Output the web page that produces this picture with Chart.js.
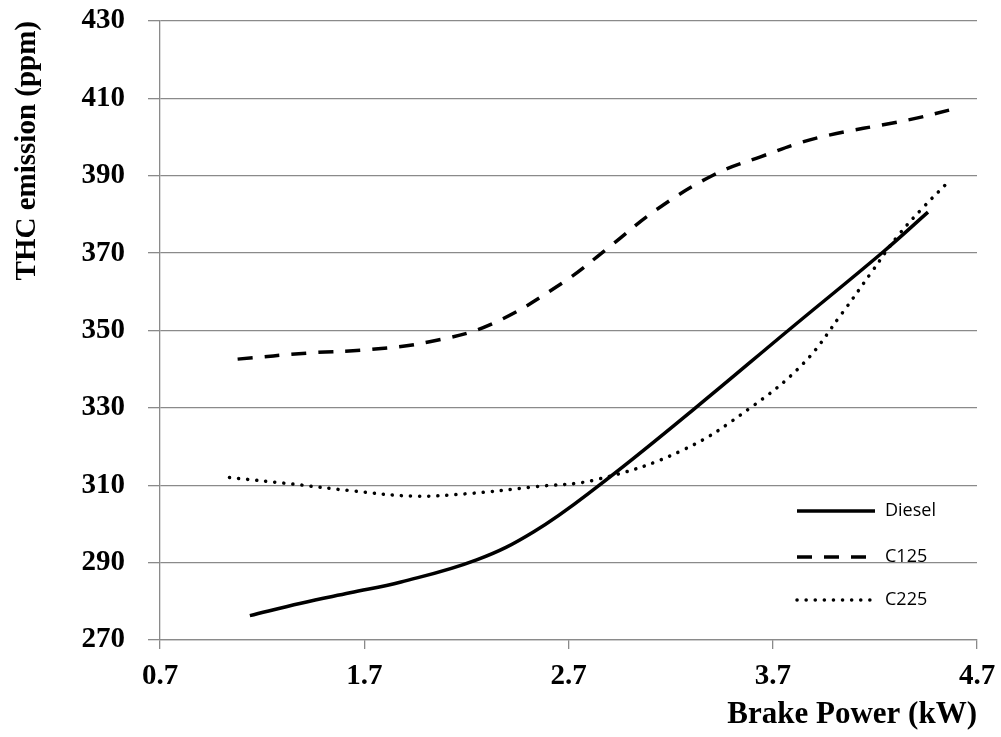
<!DOCTYPE html>
<html>
<head>
<meta charset="utf-8">
<script src="https://cdn.jsdelivr.net/npm/chart.js@4.4.1/dist/chart.umd.min.js"></script>
<style>
  html, body { margin: 0; padding: 0; background: #fff; }
  #wrap { width: 1001px; height: 737px; }
</style>
</head>
<body>
<div id="wrap"><canvas id="thc"></canvas></div>
<script>
// values
const xTicks = [0.7, 1.7, 2.7, 3.7, 4.7];
const yMin = 270, yMax = 430, yStep = 20;

const dieselX = [1.14, 1.39, 1.63, 1.88, 2.25, 2.53, 2.84, 3.31, 3.78, 4.24, 4.46];
const dieselY = [276.3, 279.5, 282.2, 285.0, 290.7, 298.0, 309.6, 329.5, 350.2, 370.3, 380.6];

const c125X = [1.08, 1.43, 1.73, 2.02, 2.32, 2.67, 2.90, 3.13, 3.41, 3.64, 3.92, 4.37, 4.59];
const c125Y = [342.6, 344.2, 345.1, 347.1, 351.6, 362.3, 371.6, 381.2, 390.2, 394.9, 399.8, 404.5, 407.3];

const c225X = [1.04, 1.35, 1.65, 1.94, 2.20, 2.53, 2.84, 3.26, 3.59, 3.85, 4.04, 4.18, 4.31, 4.44, 4.55];
const c225Y = [312.0, 310.3, 308.5, 307.2, 307.8, 309.6, 311.5, 319.1, 330.0, 341.5, 354.5, 364.8, 374.3, 382.0, 387.9];

const pts = (xs, ys) => xs.map((x, i) => ({x: x, y: ys[i]}));
const gridGray = '#8a8a8a';
const serif = "'Liberation Serif', 'Times New Roman', serif";

// legend drawn inside the plot, lower right
const insideLegend = {
  id: 'insideLegend',
  afterDraw(chart) {
    const ctx = chart.ctx;
    const a = chart.chartArea;
    const rows = [a.bottom - 129, a.bottom - 83, a.bottom - 40];
    ctx.save();
    chart.data.datasets.forEach((ds, i) => {
      const y = rows[i];
      ctx.beginPath();
      ctx.strokeStyle = ds.borderColor;
      ctx.lineWidth = ds.borderWidth;
      ctx.lineCap = ds.borderCapStyle || 'butt';
      ctx.setLineDash(ds.borderDash || []);
      ctx.moveTo(a.right - 180, y);
      ctx.lineTo(a.right - 102, y);
      ctx.stroke();
      ctx.setLineDash([]);
      ctx.fillStyle = '#000';
      ctx.font = "18px 'Open Sans', sans-serif";
      ctx.textBaseline = 'middle';
      ctx.textAlign = 'left';
      ctx.fillText(ds.label, a.right - 92, y);
    });
    ctx.restore();
  }
};

new Chart(document.getElementById('thc'), {
  type: 'line',
  data: {
    datasets: [
      {
        label: 'Diesel',
        data: pts(dieselX, dieselY),
        borderColor: '#000',
        borderWidth: 3.5,
        pointRadius: 0,
        tension: 0.4
      },
      {
        label: 'C125',
        data: pts(c125X, c125Y),
        borderColor: '#000',
        borderWidth: 3.5,
        borderDash: [15, 12],
        pointRadius: 0,
        tension: 0.4
      },
      {
        label: 'C225',
        data: pts(c225X, c225Y),
        borderColor: '#000',
        borderWidth: 3.5,
        borderDash: [0.1, 9],
        borderCapStyle: 'round',
        pointRadius: 0,
        tension: 0.4
      }
    ]
  },
  options: {
    responsive: true,
    maintainAspectRatio: false,
    animation: false,
    layout: { padding: { top: 21, right: 24, bottom: 0, left: 0 } },
    plugins: {
      legend: { display: false },
      tooltip: { enabled: false }
    },
    scales: {
      x: {
        type: 'linear',
        min: xTicks[0],
        max: xTicks[xTicks.length - 1],
        afterBuildTicks: s => { s.ticks = xTicks.map(v => ({value: v})); },
        afterFit: s => { s.height = 97; s.paddingLeft = 0; s.paddingRight = 0; },
        grid: { drawOnChartArea: false, color: gridGray, lineWidth: 1.3, tickLength: 9 },
        border: { color: gridGray, width: 1.3 },
        ticks: {
          color: '#000',
          padding: 10,
          maxRotation: 0,
          font: { family: serif, size: 29, weight: 'bold' },
          callback: v => Number(v).toFixed(1)
        },
        title: {
          display: true,
          text: 'Brake Power (kW)',
          align: 'end',
          color: '#000',
          padding: { top: 0, bottom: 3 },
          font: { family: serif, size: 31, weight: 'bold' }
        }
      },
      y: {
        min: yMin,
        max: yMax,
        afterFit: s => { s.width = 160; s.paddingTop = 0; s.paddingBottom = 0; },
        grid: { color: gridGray, lineWidth: 1.3, tickLength: 12 },
        border: { color: gridGray, width: 1.3 },
        ticks: {
          stepSize: yStep,
          color: '#000',
          padding: 23,
          font: { family: serif, size: 29, weight: 'bold' }
        },
        title: {
          display: true,
          text: 'THC emission (ppm)',
          align: 'end',
          color: '#000',
          padding: { top: 10, bottom: 0 },
          font: { family: serif, size: 29, weight: 'bold' }
        }
      }
    }
  },
  plugins: [insideLegend]
});
</script>
</body>
</html>
